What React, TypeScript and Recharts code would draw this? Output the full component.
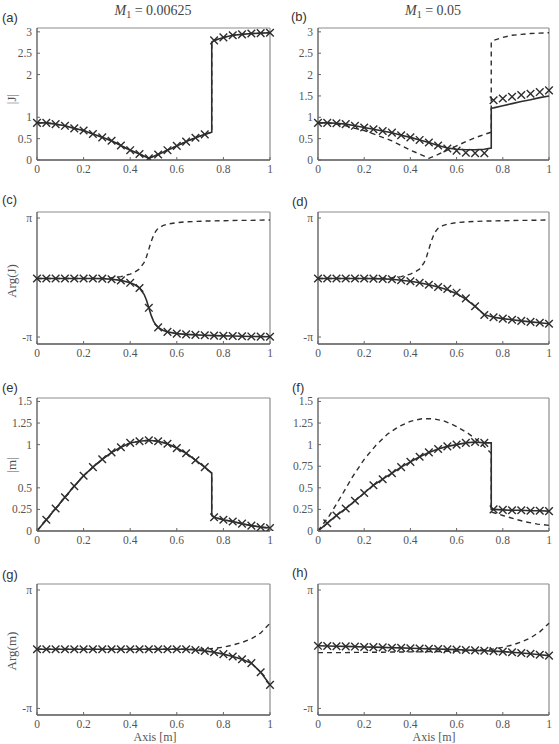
import React from 'react';
import { ComposedChart, Line, Scatter, XAxis, YAxis, ReferenceLine } from 'recharts';

// sample positions along the axis [m]
const MARK_X = [0, 0.04, 0.08, 0.12, 0.16, 0.2, 0.24, 0.28, 0.32, 0.36, 0.4, 0.44, 0.48, 0.52, 0.56, 0.6, 0.64, 0.68, 0.72, 0.76, 0.8, 0.84, 0.88, 0.92, 0.96, 1];
const M_MARK_X = MARK_X.slice(1);
// same grid with the step at the 0.75 m interface
const JUMP_X = [0, 0.04, 0.08, 0.12, 0.16, 0.2, 0.24, 0.28, 0.32, 0.36, 0.4, 0.44, 0.48, 0.52, 0.56, 0.6, 0.64, 0.68, 0.72, 0.75, 0.75, 0.76, 0.8, 0.84, 0.88, 0.92, 0.96, 1];
// finer around the phase flip
const PHASE_X = [0, 0.04, 0.08, 0.12, 0.16, 0.2, 0.24, 0.28, 0.32, 0.36, 0.4, 0.42, 0.44, 0.46, 0.47, 0.48, 0.49, 0.5, 0.51, 0.52, 0.54, 0.56, 0.6, 0.64, 0.68, 0.72, 0.76, 0.8, 0.84, 0.88, 0.92, 0.96, 1];
const DASH_F_X = [0, 0.05, 0.1, 0.15, 0.2, 0.25, 0.3, 0.35, 0.4, 0.45, 0.5, 0.55, 0.6, 0.65, 0.7, 0.75, 0.75, 0.8, 0.85, 0.9, 0.95, 1];

const X_TICKS = [0, 0.2, 0.4, 0.6, 0.8, 1];
const J_TICKS_A = [0, 0.5, 1, 2, 2.5, 3];
const J_TICKS_B = [0, 0.5, 1, 1.5, 2, 2.5, 3];
const M_TICKS_E = [0, 0.25, 0.5, 1, 1.25, 1.5];
const M_TICKS_F = [0, 0.25, 0.5, 0.75, 1, 1.25, 1.5];
const PHASE_TICKS = [-Math.PI, Math.PI];

// |J| reference (dashed), also the M1 = 0.00625 result
const J_REF = [0.87, 0.87, 0.84, 0.8, 0.74, 0.69, 0.61, 0.53, 0.45, 0.34, 0.23, 0.14, 0.04, 0.13, 0.23, 0.33, 0.43, 0.52, 0.6, 0.65, 2.76, 2.8, 2.87, 2.92, 2.94, 2.96, 2.97, 2.98];
const J_A_MARK = [0.87, 0.87, 0.84, 0.8, 0.74, 0.69, 0.61, 0.53, 0.45, 0.34, 0.23, 0.14, 0.04, 0.13, 0.23, 0.33, 0.43, 0.52, 0.6, 2.8, 2.87, 2.92, 2.94, 2.96, 2.97, 2.98];
const J_B_SOLID = [0.87, 0.87, 0.86, 0.84, 0.8, 0.76, 0.72, 0.68, 0.64, 0.58, 0.53, 0.47, 0.41, 0.34, 0.28, 0.25, 0.24, 0.24, 0.25, 0.28, 1.21, 1.22, 1.27, 1.32, 1.37, 1.41, 1.46, 1.5];
const J_B_MARK = [0.87, 0.87, 0.86, 0.84, 0.8, 0.76, 0.72, 0.68, 0.64, 0.58, 0.53, 0.47, 0.41, 0.34, 0.27, 0.22, 0.17, 0.16, 0.16, 1.4, 1.44, 1.48, 1.52, 1.55, 1.59, 1.63];

// Arg(J)
const ARG_J_DASH = [-0.05, -0.05, -0.05, -0.05, -0.05, -0.05, -0.05, -0.04, -0.01, 0.05, 0.18, 0.29, 0.45, 0.8, 1.1, 1.5, 1.9, 2.22, 2.45, 2.6, 2.74, 2.82, 2.9, 2.94, 2.96, 2.98, 2.99, 3.0, 3.01, 3.02, 3.02, 3.03, 3.04];
const ARG_J_C_SOLID = [-0.05, -0.05, -0.05, -0.05, -0.05, -0.05, -0.05, -0.06, -0.09, -0.15, -0.28, -0.38, -0.55, -0.9, -1.2, -1.6, -2.0, -2.3, -2.5, -2.63, -2.78, -2.87, -2.96, -3.0, -3.03, -3.05, -3.07, -3.08, -3.09, -3.1, -3.11, -3.12, -3.13];
const ARG_J_C_MARK = [-0.05, -0.05, -0.05, -0.05, -0.05, -0.05, -0.05, -0.06, -0.09, -0.15, -0.28, -0.55, -1.6, -2.63, -2.87, -2.96, -3.0, -3.03, -3.05, -3.07, -3.08, -3.09, -3.1, -3.11, -3.12, -3.13];
const ARG_J_D_SOLID = [-0.05, -0.05, -0.05, -0.05, -0.05, -0.05, -0.06, -0.07, -0.09, -0.14, -0.2, -0.28, -0.38, -0.5, -0.65, -0.86, -1.14, -1.52, -1.96, -2.1, -2.17, -2.23, -2.29, -2.34, -2.39, -2.44];
const ARG_J_D_MARK = [-0.05, -0.05, -0.05, -0.05, -0.05, -0.05, -0.06, -0.07, -0.09, -0.14, -0.2, -0.28, -0.38, -0.5, -0.6, -0.8, -1.1, -1.52, -1.98, -2.1, -2.17, -2.23, -2.29, -2.34, -2.39, -2.44];

// |m|
const M_E = [0, 0.13, 0.26, 0.39, 0.52, 0.64, 0.74, 0.83, 0.91, 0.97, 1.02, 1.04, 1.05, 1.04, 1.01, 0.96, 0.9, 0.82, 0.74, 0.67, 0.18, 0.16, 0.13, 0.11, 0.085, 0.062, 0.045, 0.035];
const M_E_MARK = [0.13, 0.26, 0.39, 0.52, 0.64, 0.74, 0.83, 0.91, 0.97, 1.02, 1.04, 1.05, 1.04, 1.01, 0.96, 0.9, 0.82, 0.74, 0.16, 0.13, 0.11, 0.085, 0.062, 0.045, 0.035];
const M_F_SOLID = [0, 0.09, 0.18, 0.26, 0.35, 0.44, 0.53, 0.6, 0.67, 0.74, 0.8, 0.86, 0.91, 0.95, 0.98, 1.0, 1.02, 1.03, 1.02, 1.02, 0.25, 0.25, 0.245, 0.24, 0.24, 0.235, 0.235, 0.23];
const M_F_MARK = [0.09, 0.18, 0.26, 0.35, 0.44, 0.53, 0.6, 0.67, 0.74, 0.8, 0.86, 0.91, 0.95, 0.98, 1.0, 1.02, 1.03, 1.02, 0.25, 0.245, 0.24, 0.24, 0.235, 0.235, 0.23];
const M_F_DASH = [0, 0.18, 0.4, 0.63, 0.83, 0.99, 1.12, 1.21, 1.27, 1.3, 1.3, 1.27, 1.21, 1.13, 1.03, 0.9, 0.22, 0.18, 0.14, 0.105, 0.08, 0.065];

// Arg(m)
const ARG_M_G_SOLID = [0, 0, 0, 0, 0, 0, 0, 0, 0, 0, 0, 0, 0, 0, 0, 0, 0, -0.04, -0.09, -0.16, -0.26, -0.39, -0.53, -0.74, -1.22, -1.89];
const ARG_M_G_DASH = [0, 0, 0, 0, 0, 0, 0, 0, 0, 0, 0, 0, 0, 0, 0, 0, 0, 0, 0.01, 0.04, 0.11, 0.22, 0.36, 0.55, 0.86, 1.38];
const ARG_M_H_SOLID = [0.18, 0.17, 0.16, 0.15, 0.14, 0.12, 0.11, 0.1, 0.08, 0.07, 0.05, 0.04, 0.02, 0.01, -0.01, -0.02, -0.04, -0.06, -0.08, -0.1, -0.13, -0.16, -0.2, -0.24, -0.29, -0.34];
const ARG_M_H_DASH = [-0.18, -0.18, -0.18, -0.18, -0.17, -0.17, -0.16, -0.16, -0.15, -0.15, -0.14, -0.14, -0.13, -0.12, -0.11, -0.1, -0.08, -0.06, -0.03, 0.02, 0.1, 0.22, 0.38, 0.6, 0.92, 1.38];

const SERIF = '"Liberation Serif", "Times New Roman", serif';
const SANS = '"Liberation Sans", Arial, sans-serif';
const INK = '#2e2e2e';
const TEXT = '#555';

const pts = (xs: number[], ys: number[]) => xs.map((x, i) => ({ x, y: ys[i] }));

const YW = 37;
const MT = 6;
const MR = 6;
const XH = 20;
const GAP = 5;

const fmtNum = (v: number) => String(v);
const fmtPhase = (v: number) => (v > 0 ? 'π' : '-π');

const Cross = (props: any) => {
  const { cx, cy } = props;
  if (cx == null || cy == null) return null;
  const s = 3.8;
  return (
    <path
      d={`M${cx - s},${cy - s}L${cx + s},${cy + s}M${cx - s},${cy + s}L${cx + s},${cy - s}`}
      stroke={INK}
      strokeWidth={1.4}
      fill="none"
    />
  );
};

const tickText = { fontFamily: SERIF, fontSize: 11.5 };

const XTick = (props: any) => {
  const { x, y, payload } = props;
  return (
    <g>
      <line x1={x} x2={x} y1={y - GAP} y2={y - GAP - 3} stroke="#666" strokeWidth={1} />
      <text x={x} y={y} dy="0.71em" textAnchor="middle" fill={TEXT} style={tickText}>
        {fmtNum(payload.value)}
      </text>
    </g>
  );
};

const makeYTick = (fmt: (v: number) => string) => (props: any) => {
  const { x, y, payload } = props;
  return (
    <g>
      <line x1={x + GAP} x2={x + GAP + 3} y1={y} y2={y} stroke="#666" strokeWidth={1} />
      <text x={x} y={y} dy="0.35em" textAnchor="end" fill={TEXT} style={tickText}>
        {fmt(payload.value)}
      </text>
    </g>
  );
};

type PanelProps = {
  left: number;
  top: number;
  w: number;
  h: number;
  domain: [number, number];
  ticks: number[];
  fmt: (v: number) => string;
  solid: { x: number; y: number }[];
  dashed: { x: number; y: number }[];
  marks: { x: number; y: number }[];
};

function Panel({ left, top, w, h, domain, ticks, fmt, solid, dashed, marks }: PanelProps) {
  const yTick = makeYTick(fmt);
  return (
    <div style={{ position: 'absolute', left: left - YW, top: top - MT }}>
      <ComposedChart width={YW + w + MR} height={MT + h + XH} margin={{ top: MT, right: MR, bottom: 0, left: 0 }}>
        <XAxis
          type="number"
          dataKey="x"
          domain={[0, 1]}
          ticks={X_TICKS}
          interval={0}
          height={XH}
          tickSize={0}
          tickMargin={GAP}
          tickLine={false}
          tick={(p: any) => <XTick {...p} />}
          axisLine={{ stroke: '#555', strokeWidth: 1.3 }}
        />
        <YAxis
          type="number"
          dataKey="y"
          domain={domain}
          ticks={ticks}
          interval={0}
          width={YW}
          tickSize={0}
          tickMargin={GAP}
          tickLine={false}
          tick={(p: any) => yTick(p)}
          axisLine={{ stroke: '#555', strokeWidth: 1.3 }}
          allowDataOverflow
        />
        <ReferenceLine y={domain[1]} stroke="#8c8c8c" strokeWidth={1.2} />
        <ReferenceLine x={1} stroke="#8c8c8c" strokeWidth={1.2} />
        <Line
          data={dashed}
          dataKey="y"
          type="linear"
          stroke={INK}
          strokeWidth={1.4}
          strokeDasharray="5 4"
          dot={false}
          isAnimationActive={false}
        />
        <Line data={solid} dataKey="y" type="linear" stroke={INK} strokeWidth={1.6} dot={false} isAnimationActive={false} />
        <Scatter data={marks} dataKey="y" shape={Cross} isAnimationActive={false} />
      </ComposedChart>
    </div>
  );
}

const Title = ({ cx, value }: { cx: number; value: string }) => (
  <div
    style={{
      position: 'absolute',
      left: cx - 70,
      width: 140,
      top: 3,
      textAlign: 'center',
      fontFamily: SERIF,
      fontSize: 14,
      lineHeight: '16px',
      color: '#444',
      whiteSpace: 'nowrap',
    }}
  >
    <i>M</i>
    <span style={{ fontSize: 10, position: 'relative', top: 3 }}>1</span> = {value}
  </div>
);

const Tag = ({ x, y, text }: { x: number; y: number; text: string }) => (
  <div
    style={{
      position: 'absolute',
      left: x,
      top: y - 8,
      fontFamily: SANS,
      fontSize: 13,
      lineHeight: '16px',
      color: '#333',
    }}
  >
    {text}
  </div>
);

const YLabel = ({ cy, text }: { cy: number; text: string }) => (
  <div
    style={{
      position: 'absolute',
      left: 12,
      top: cy,
      transform: 'translate(-50%, -50%) rotate(-90deg)',
      fontFamily: SERIF,
      fontSize: 13,
      lineHeight: '14px',
      color: TEXT,
      whiteSpace: 'nowrap',
    }}
  >
    {text}
  </div>
);

const XLabel = ({ cx }: { cx: number }) => (
  <div
    style={{
      position: 'absolute',
      left: cx - 40,
      width: 80,
      top: 731,
      textAlign: 'center',
      fontFamily: SERIF,
      fontSize: 12,
      lineHeight: '13px',
      color: TEXT,
    }}
  >
    Axis [m]
  </div>
);

const COLS = [
  { left: 37, w: 233 },
  { left: 318, w: 231 },
];
const ROWS = [
  { top: 28, h: 132 },
  { top: 212, h: 132 },
  { top: 398, h: 133 },
  { top: 584, h: 131 },
];

const J_DOMAIN: [number, number] = [0, 3.09];
const ARG_J_DOMAIN: [number, number] = [-3.51, 3.46];
const M_DOMAIN: [number, number] = [0, 1.54];
const ARG_M_DOMAIN: [number, number] = [-3.49, 3.46];

export default function App() {
  return (
    <div
      style={{
        position: 'absolute',
        left: 0,
        top: 0,
        width: 559,
        height: 744,
        overflow: 'hidden',
        background: '#fff',
      }}
    >
      <Title cx={153} value="0.00625" />
      <Title cx={433} value="0.05" />

      <Tag x={2} y={18} text="(a)" />
      <Tag x={291} y={17} text="(b)" />
      <Tag x={2} y={200} text="(c)" />
      <Tag x={292} y={202} text="(d)" />
      <Tag x={2} y={388} text="(e)" />
      <Tag x={292} y={388} text="(f)" />
      <Tag x={2} y={575} text="(g)" />
      <Tag x={292} y={573} text="(h)" />

      <YLabel cy={99} text="|J|" />
      <YLabel cy={281} text="Arg(J)" />
      <YLabel cy={465} text="|m|" />
      <YLabel cy={651} text="Arg(m)" />

      <Panel
        {...COLS[0]}
        {...ROWS[0]}
        domain={J_DOMAIN}
        ticks={J_TICKS_A}
        fmt={fmtNum}
        dashed={pts(JUMP_X, J_REF)}
        solid={pts(JUMP_X, J_REF)}
        marks={pts(MARK_X, J_A_MARK)}
      />
      <Panel
        {...COLS[1]}
        {...ROWS[0]}
        domain={J_DOMAIN}
        ticks={J_TICKS_B}
        fmt={fmtNum}
        dashed={pts(JUMP_X, J_REF)}
        solid={pts(JUMP_X, J_B_SOLID)}
        marks={pts(MARK_X, J_B_MARK)}
      />
      <Panel
        {...COLS[0]}
        {...ROWS[1]}
        domain={ARG_J_DOMAIN}
        ticks={PHASE_TICKS}
        fmt={fmtPhase}
        dashed={pts(PHASE_X, ARG_J_DASH)}
        solid={pts(PHASE_X, ARG_J_C_SOLID)}
        marks={pts(MARK_X, ARG_J_C_MARK)}
      />
      <Panel
        {...COLS[1]}
        {...ROWS[1]}
        domain={ARG_J_DOMAIN}
        ticks={PHASE_TICKS}
        fmt={fmtPhase}
        dashed={pts(PHASE_X, ARG_J_DASH)}
        solid={pts(MARK_X, ARG_J_D_SOLID)}
        marks={pts(MARK_X, ARG_J_D_MARK)}
      />
      <Panel
        {...COLS[0]}
        {...ROWS[2]}
        domain={M_DOMAIN}
        ticks={M_TICKS_E}
        fmt={fmtNum}
        dashed={pts(JUMP_X, M_E)}
        solid={pts(JUMP_X, M_E)}
        marks={pts(M_MARK_X, M_E_MARK)}
      />
      <Panel
        {...COLS[1]}
        {...ROWS[2]}
        domain={M_DOMAIN}
        ticks={M_TICKS_F}
        fmt={fmtNum}
        dashed={pts(DASH_F_X, M_F_DASH)}
        solid={pts(JUMP_X, M_F_SOLID)}
        marks={pts(M_MARK_X, M_F_MARK)}
      />
      <Panel
        {...COLS[0]}
        {...ROWS[3]}
        domain={ARG_M_DOMAIN}
        ticks={PHASE_TICKS}
        fmt={fmtPhase}
        dashed={pts(MARK_X, ARG_M_G_DASH)}
        solid={pts(MARK_X, ARG_M_G_SOLID)}
        marks={pts(MARK_X, ARG_M_G_SOLID)}
      />
      <Panel
        {...COLS[1]}
        {...ROWS[3]}
        domain={ARG_M_DOMAIN}
        ticks={PHASE_TICKS}
        fmt={fmtPhase}
        dashed={pts(MARK_X, ARG_M_H_DASH)}
        solid={pts(MARK_X, ARG_M_H_SOLID)}
        marks={pts(MARK_X, ARG_M_H_SOLID)}
      />

      <XLabel cx={155} />
      <XLabel cx={434} />
    </div>
  );
}
